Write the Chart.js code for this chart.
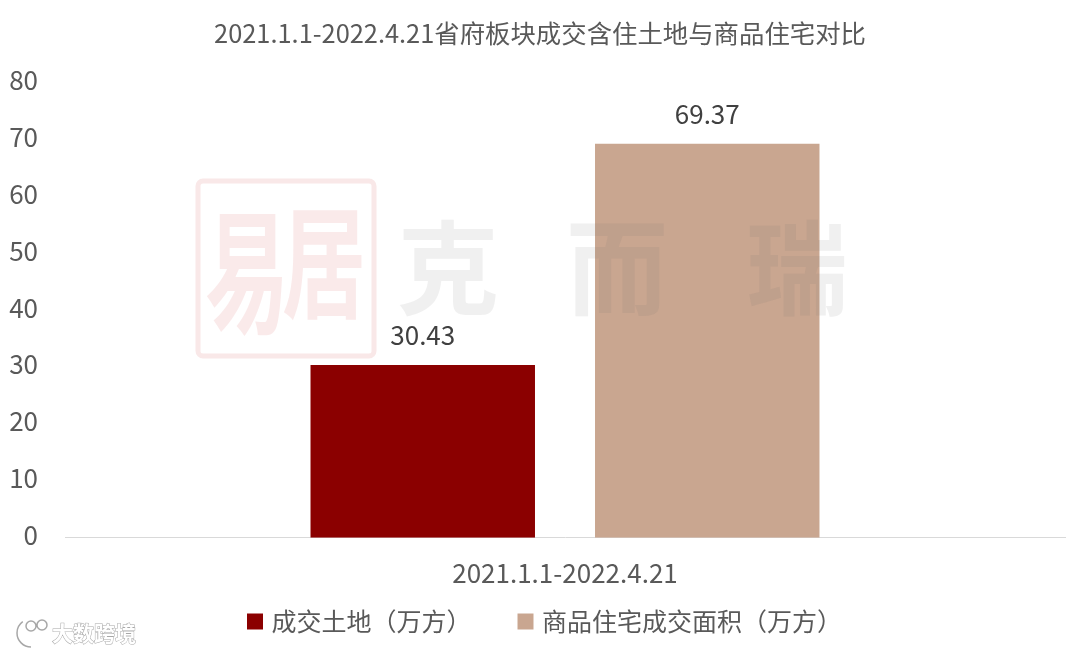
<!DOCTYPE html>
<html>
<head>
    <title>省府板块成交含住土地与商品住宅对比</title>
    <script src="https://cdn.jsdelivr.net/npm/chart.js"></script>
    <style>
        body { margin: 0; background: white; }
        #box { width: 1080px; height: 653px; }
    </style>
</head>
<body>
    <div id="box"><canvas id="landChart" width="1080" height="653"></canvas></div>
    <script>
        const chartTitle = '2021.1.1-2022.4.21省府板块成交含住土地与商品住宅对比';
        const categories = ['2021.1.1-2022.4.21'];
        const landLabel = '成交土地（万方）';
        const landValues = [30.43];
        const homeLabel = '商品住宅成交面积（万方）';
        const homeValues = [69.37];

        const font = '"Noto Sans CJK SC", "Noto Sans", sans-serif';

        function squeezed(c, text, x, y, sy) {
            c.save();
            c.translate(x, y);
            c.scale(1, sy);
            c.fillText(text, 0, 0);
            c.restore();
        }

        // value labels plus the two watermarks, which lie over the bars
        const extras = {
            id: 'extras',
            afterLayout(chart) {
                // plot stops at 1065 but title and legend centre on the page
                chart.titleBlock.right = 1080;
                chart.legend.left = 28;
            },
            afterDatasetsDraw(chart) {
                const c = chart.ctx;
                c.save();
                c.textAlign = 'center';
                c.textBaseline = 'middle';

                c.strokeStyle = 'rgba(215,90,90,0.14)';
                c.lineWidth = 5;
                c.beginPath();
                c.roundRect(198, 181, 176, 175, 5);
                c.stroke();
                c.fillStyle = 'rgba(215,90,90,0.13)';
                c.font = 'bold 84px ' + font;
                squeezed(c, '易', 247, 272, 1.6);
                squeezed(c, '居', 324, 262, 1.45);

                c.fillStyle = 'rgba(110,110,110,0.1)';
                c.font = 'bold 102px ' + font;
                c.fillText('克', 448, 268);
                c.fillText('而', 617, 268);
                c.fillText('瑞', 797, 268);

                c.fillStyle = '#404040';
                c.font = '26px ' + font;
                chart.data.datasets.forEach((ds, i) => {
                    const bar = chart.getDatasetMeta(i).data[0];
                    c.fillText(ds.data[0].toFixed(2), bar.x, bar.y - 30);
                });

                // 大数跨境 stamp, bottom left
                c.strokeStyle = 'rgba(130,130,130,0.7)';
                c.lineWidth = 1.5;
                c.fillStyle = 'white';
                c.beginPath();
                c.arc(31, 633, 14, Math.PI * 0.5, Math.PI * 1.3);
                c.stroke();
                c.beginPath();
                c.arc(31, 626, 5, 0, Math.PI * 2);
                c.moveTo(47, 625);
                c.arc(42, 625, 5, 0, Math.PI * 2);
                c.stroke();
                c.lineWidth = 1;
                c.font = 'bold 21px ' + font;
                c.textAlign = 'left';
                c.strokeText('大数跨境', 52, 633);
                c.fillText('大数跨境', 52, 633);
                c.restore();
            }
        };

        new Chart(document.getElementById('landChart').getContext('2d'), {
            type: 'bar',
            data: {
                labels: categories,
                datasets: [
                    { label: landLabel, data: landValues, backgroundColor: '#8b0000' },
                    { label: homeLabel, data: homeValues, backgroundColor: '#c9a690' }
                ]
            },
            options: {
                responsive: false,
                animation: false,
                barPercentage: 0.789,
                categoryPercentage: 0.569,
                layout: { padding: { left: 0, right: 15, top: 0, bottom: 9 } },
                scales: {
                    x: {
                        grid: { display: false, drawTicks: false },
                        border: { color: '#d9d9d9', width: 1 },
                        ticks: { color: '#595959', font: { family: font, size: 26 }, padding: 20 }
                    },
                    y: {
                        min: 0,
                        max: 80,
                        grid: { display: false, drawTicks: false },
                        border: { display: false },
                        afterFit(scale) { scale.width = 65; },
                        ticks: { stepSize: 10, color: '#595959', font: { family: font, size: 26 }, padding: 27, labelOffset: -3 }
                    }
                },
                plugins: {
                    title: {
                        display: true,
                        text: chartTitle,
                        color: '#595959',
                        font: { family: font, size: 25.4, weight: 'normal' },
                        padding: { top: 18, bottom: 35 }
                    },
                    legend: {
                        position: 'bottom',
                        labels: {
                            color: '#595959',
                            font: { family: font, size: 25 },
                            usePointStyle: true,
                            pointStyle: 'rect',
                            boxWidth: 8,
                            boxHeight: 16,
                            padding: 0,
                            // wide spaces hold the gap between the items
                            generateLabels(chart) {
                                const items = Chart.defaults.plugins.legend.labels.generateLabels(chart);
                                items[0].text += '\u3000\u3000\u2002';
                                return items;
                            }
                        }
                    },
                    tooltip: { enabled: false }
                }
            },
            plugins: [extras]
        });
    </script>
</body>
</html>
